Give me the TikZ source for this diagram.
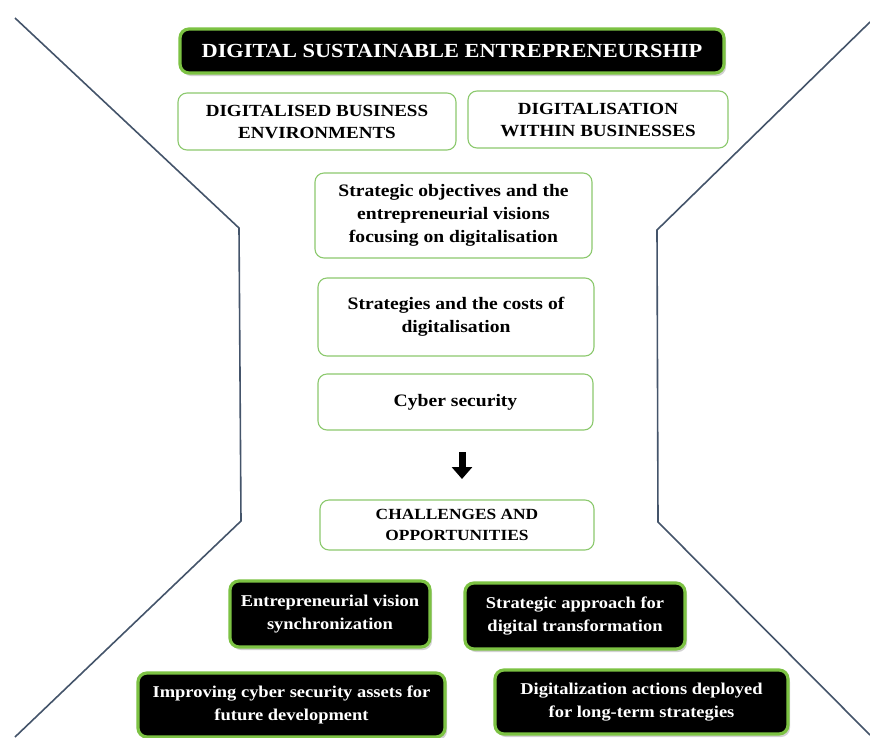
\documentclass[tikz,border=0pt]{standalone}
\usepackage{fontspec}
\setmainfont{Liberation Serif}[FakeStretch=1.12]
\usetikzlibrary{shadows,arrows.meta}
\definecolor{frame}{HTML}{44546A}
\definecolor{lgreen}{HTML}{8CC96E}
\definecolor{bgreen}{HTML}{7CC243}
\tikzset{
  sideline/.style={draw=frame, line width=1.6pt, line join=miter},
  whitebox/.style={draw=lgreen, line width=1.1pt, fill=white, rounded corners=9pt,
    align=center, font=\bfseries\fontsize{17.5}{23}\selectfont, inner sep=2pt},
  blackbox/.style={draw=bgreen, line width=3.2pt, fill=black, text=white, rounded corners=9pt,
    align=center, font=\bfseries\fontsize{16.5}{23}\selectfont, inner sep=2pt,
    drop shadow={shadow xshift=2pt, shadow yshift=-3pt, opacity=0.35}},
}
\begin{document}
\begin{tikzpicture}[x=1pt,y=-1pt]
\useasboundingbox[fill=white] (0,0) rectangle (870,737);
% side frame lines
\draw[sideline] (15,18) -- (239,228) -- (241,521) -- (15,737);
\draw[sideline] (870,22) -- (657,230) -- (658,522) -- (870,735);
% nodes
\node[blackbox, minimum width=544pt, minimum height=44pt, font=\bfseries\fontsize{20}{22}\selectfont] (title) at (452,51) {DIGITAL SUSTAINABLE ENTREPRENEURSHIP};
\node[whitebox, minimum width=278pt, minimum height=57pt, font=\bfseries\fontsize{17}{22}\selectfont] (dbe) at (317,121.5) {DIGITALISED BUSINESS\\ENVIRONMENTS};
\node[whitebox, minimum width=260pt, minimum height=57pt, font=\bfseries\fontsize{17}{22}\selectfont] (dwb) at (598,119.5) {DIGITALISATION\\WITHIN BUSINESSES};
\node[whitebox, minimum width=277pt, minimum height=85pt] (so) at (453.5,215.5) {Strategic objectives and the\\entrepreneurial visions\\focusing on digitalisation};
\node[whitebox, minimum width=276pt, minimum height=78pt] (sc) at (456,317) {Strategies and the costs of\\digitalisation};
\node[whitebox, minimum width=275pt, minimum height=56pt] (cs) at (455.5,402) {Cyber security};
\node[whitebox, minimum width=274pt, minimum height=50pt, font=\bfseries\fontsize{15.5}{21}\selectfont] (co) at (457,525) {CHALLENGES AND\\OPPORTUNITIES};
\node[blackbox, minimum width=200pt, minimum height=66pt] (ev) at (330,614) {Entrepreneurial vision\\synchronization};
\node[blackbox, minimum width=220pt, minimum height=66pt] (sa) at (575,616) {Strategic approach for\\digital transformation};
\node[blackbox, minimum width=307pt, minimum height=64pt] (ic) at (291.5,705) {Improving cyber security assets for\\future development};
\node[blackbox, minimum width=293pt, minimum height=64pt] (da) at (641.5,702) {Digitalization actions deployed\\for long-term strategies};
% arrow
\coordinate (a1) at (462,452);
\coordinate (a2) at (462,479);
\draw[line width=7pt, -{Triangle[width=20pt,length=12pt]}] (a1) -- (a2);
\end{tikzpicture}
\end{document}
